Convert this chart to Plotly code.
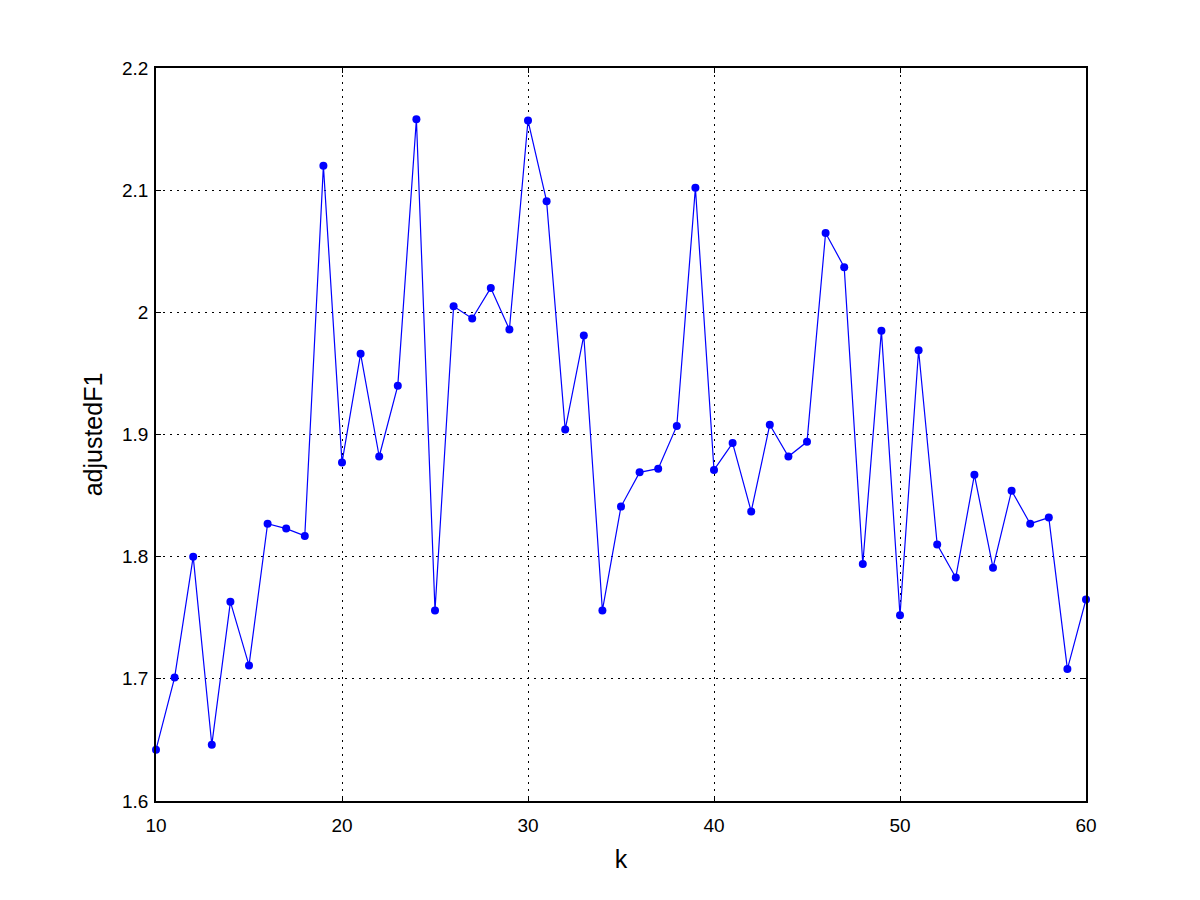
import plotly.graph_objects as go

k = list(range(10, 61))
adjusted_f1 = [1.642, 1.701, 1.800, 1.646, 1.763, 1.711, 1.827, 1.823, 1.817, 2.120,
               1.877, 1.966, 1.882, 1.940, 2.158, 1.756, 2.005, 1.995, 2.020, 1.986,
               2.157, 2.091, 1.904, 1.981, 1.756, 1.841, 1.869, 1.872, 1.907, 2.102,
               1.871, 1.893, 1.837, 1.908, 1.882, 1.894, 2.065, 2.037, 1.794, 1.985,
               1.752, 1.969, 1.810, 1.783, 1.867, 1.791, 1.854, 1.827, 1.832, 1.708,
               1.765]

x_ticks = [10, 20, 30, 40, 50, 60]
y_ticks = [1.6, 1.7, 1.8, 1.9, 2.0, 2.1, 2.2]
y_labels = ["1.6", "1.7", "1.8", "1.9", "2", "2.1", "2.2"]

fig = go.Figure()
fig.add_trace(go.Scatter(
    x=k, y=adjusted_f1, mode="lines+markers",
    line=dict(color="#0000ff", width=1.2),
    marker=dict(color="#0000ff", size=8),
    cliponaxis=False, showlegend=False,
))

axis_common = dict(
    showline=True, linecolor="black", linewidth=1.5, mirror="ticks",
    ticks="inside", ticklen=5, tickcolor="black",
    showgrid=True, gridcolor="black", griddash="2px,5px", gridwidth=1.2,
    zeroline=False, tickfont=dict(family="Liberation Sans, Arial", size=19, color="black"),
    title_font=dict(family="Liberation Sans, Arial", size=25, color="black"),
)

fig.update_xaxes(range=[10, 60], tickvals=x_ticks, title_text="k", title_standoff=16,
                 ticklabelstandoff=6, **axis_common)
fig.update_yaxes(range=[1.6, 2.2], tickvals=y_ticks, ticktext=y_labels, title_text="adjustedF1",
                 title_standoff=12, ticklabelstandoff=2, **axis_common)

fig.update_layout(
    width=1200, height=900,
    margin=dict(l=148, r=122, t=60, b=107),
    plot_bgcolor="white", paper_bgcolor="white",
)

fig.write_html("out.html")
